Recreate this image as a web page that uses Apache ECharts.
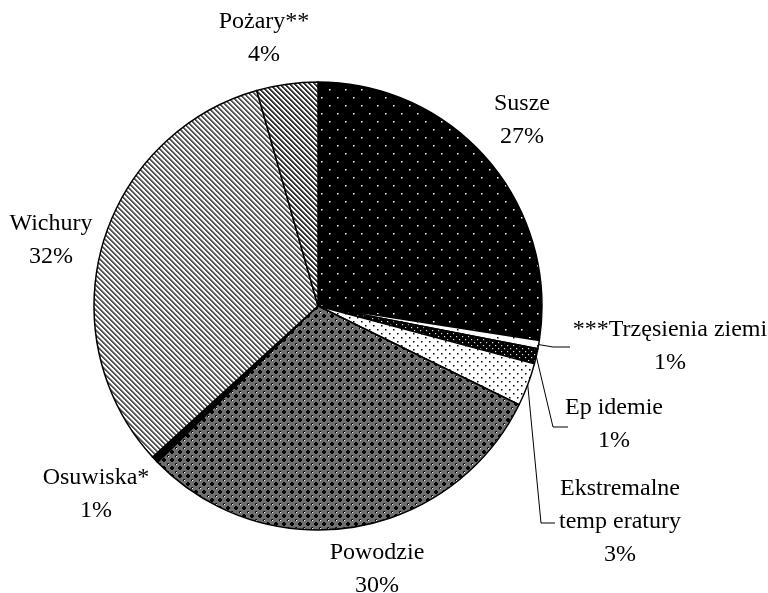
<!DOCTYPE html>
<html><head><meta charset="utf-8">
<script src="https://cdn.jsdelivr.net/npm/echarts@6/dist/echarts.min.js"></script>
<style>html,body{margin:0;padding:0;background:#fff}#c{width:768px;height:593px}</style>
</head><body><div id="c"></div>
<script>
// Data (percent shares)
const categories = ['Susze', '***Trzęsienia ziemi', 'Epidemie', 'Ekstremalne\ntemperatury', 'Powodzie', 'Osuwiska*', 'Wichury', 'Pożary**'];
const displayNames = ['Susze', '***Trzęsienia ziemi', 'Ep idemie', 'Ekstremalne\ntemp eratury', 'Powodzie', 'Osuwiska*', 'Wichury', 'Pożary**'];
const values = [27.4, 0.6, 1.1, 3.1, 30.4, 0.5, 32.3, 4.4];

// Layout / style (not data)
const labelCenters = [[522,120],[670,346],[614,424],[620,522],[377,569],[96,494],[51,240],[264,38]];
const leaderBends = [null, [[553,347],[570,347]], [[553,427],[568,427]], [[541,523],[555,523]], null, null, null, null];

function pat(w, h, draw) {
  const c = document.createElement('canvas'); c.width = w; c.height = h;
  const g = c.getContext('2d'); draw(g, w, h); return { image: c, repeat: 'repeat' };
}
function dots(bg, fg, w, h, pts, s) {
  return pat(w, h, (g) => { g.fillStyle = bg; g.fillRect(0,0,w,h); g.fillStyle = fg; pts.forEach(p => g.fillRect(p[0], p[1], s, s)); });
}
function stripes(period, darkW, dark, mid) {
  return pat(period, period, (g, w, h) => {
    g.fillStyle = '#fff'; g.fillRect(0,0,w,h);
    for (let y = 0; y < h; y++) for (let x = 0; x < w; x++) {
      const k = ((x - y) % period + period) % period;
      if (k < darkW) { g.fillStyle = dark; g.fillRect(x,y,1,1); }
      else if (k === darkW) { g.fillStyle = mid; g.fillRect(x,y,1,1); }
    }
  });
}
const patterns = [
  dots('#000', '#fff', 16, 16, [[1,1],[9,9]], 1.5),
  dots('#fff', '#000', 16, 16, [[1,1],[9,9]], 1.5),
  dots('#000', '#ddd', 6, 6, [[0,0],[3,3]], 1.2),
  dots('#fff', '#000', 8, 8, [[1,1],[5,5]], 1.5),
  pat(8, 8, (g) => { g.fillStyle = '#6e6e6e'; g.fillRect(0,0,8,8); g.fillStyle = '#000';
      g.fillRect(2,3,4,2); g.fillRect(3,2,2,4); g.fillRect(0,7,1,1); g.fillRect(7,0,1,1);
      g.fillStyle = '#fff'; g.fillRect(0,0,1,1); g.fillStyle='#222'; g.fillRect(7,7,1,1); }),
  pat(2, 2, (g) => { g.fillStyle = '#000'; g.fillRect(0,0,2,2); }),
  stripes(5, 2, '#555', '#aaa'),
  stripes(5, 2, '#333', '#888')
];

const chart = echarts.init(document.getElementById('c'), null, { renderer: 'canvas' });
const data = values.map((v, i) => ({
  name: categories[i], value: v,
  itemStyle: { color: patterns[i] },
  labelLine: { show: !!leaderBends[i] }
}));
chart.setOption({
  backgroundColor: '#fff',
  animation: false,
  series: [{
    type: 'pie',
    center: [318, 306],
    radius: 224,
    startAngle: 90,
    clockwise: true,
    avoidLabelOverlap: false,
    minAngle: 0,
    data: data,
    itemStyle: { borderColor: '#000', borderWidth: 1.5 },
    label: {
      show: true,
      position: 'outside',
      fontFamily: 'Liberation Serif',
      fontSize: 24,
      lineHeight: 33,
      color: '#000',
      align: 'center',
      formatter: (p) => displayNames[p.dataIndex] + '\n' + Math.round(p.percent) + '%'
    },
    labelLine: { show: true, lineStyle: { color: '#000', width: 1 }, length: 10, length2: 10 },
    labelLayout: (params) => {
      const i = params.dataIndex;
      const out = { x: labelCenters[i][0], y: labelCenters[i][1], align: 'center', verticalAlign: 'middle' };
      if (leaderBends[i] && params.labelLinePoints) {
        out.labelLinePoints = [params.labelLinePoints[0], leaderBends[i][0], leaderBends[i][1]];
      }
      return out;
    }
  }]
});
</script></body></html>
